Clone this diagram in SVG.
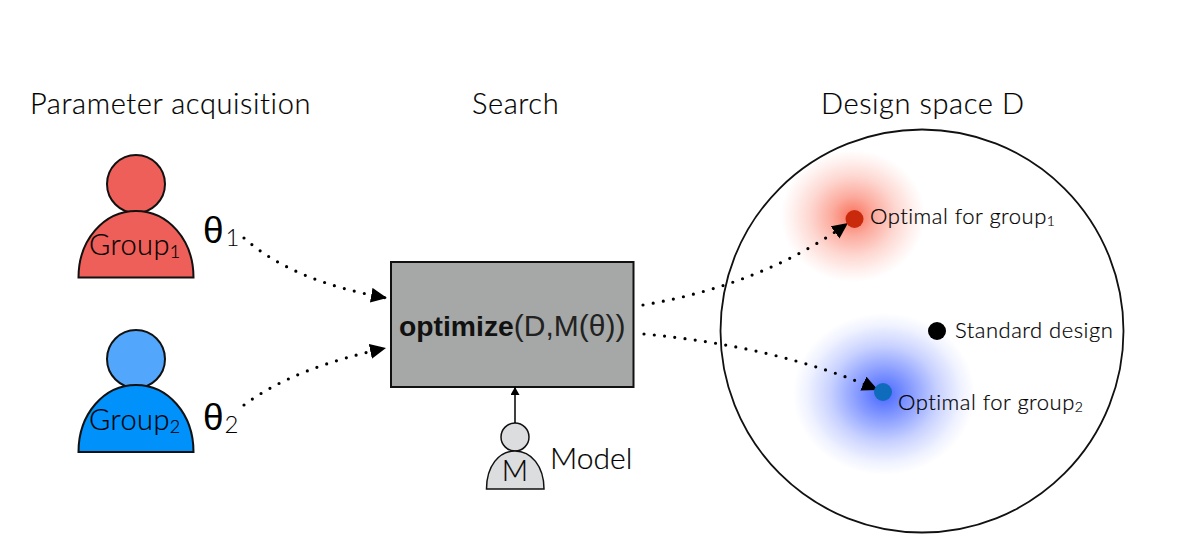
<svg xmlns="http://www.w3.org/2000/svg" width="1187" height="540" viewBox="0 0 1187 540">
<defs>
<style>
.t{font-family:"Lato","Open Sans",sans-serif;font-weight:300;fill:#000;stroke:#000;stroke-width:.2px}
.h{font-size:29px;letter-spacing:.6px}
.g{font-size:29px;letter-spacing:.45px}
.l{font-size:22px;letter-spacing:.5px}
.th{font-family:"Liberation Sans",sans-serif;font-size:37px;fill:#000}
.sh{stroke:#111;stroke-width:2}
.dot{fill:none;stroke:#000;stroke-width:3.2;stroke-linecap:round;stroke-dasharray:0 10.3;marker-end:url(#ah)}
</style>
<marker id="ah" markerUnits="userSpaceOnUse" markerWidth="18" markerHeight="16" refX="16" refY="7.5" orient="auto"><path d="M0 0L16 7.5L0 15Z" fill="#000"/></marker>
<marker id="as" markerUnits="userSpaceOnUse" markerWidth="10" markerHeight="10" refX="8" refY="4.5" orient="auto"><path d="M0 0L8 4.5L0 9Z" fill="#000"/></marker>
<radialGradient id="rg"><stop offset="0" stop-color="#f8583e" stop-opacity=".85"/><stop offset=".3" stop-color="#f8583e" stop-opacity=".5"/><stop offset=".6" stop-color="#f8583e" stop-opacity=".24"/><stop offset=".85" stop-color="#f8583e" stop-opacity=".08"/><stop offset="1" stop-color="#f8583e" stop-opacity="0"/></radialGradient>
<radialGradient id="bg"><stop offset="0" stop-color="#3f5fff" stop-opacity=".95"/><stop offset=".3" stop-color="#3f5fff" stop-opacity=".62"/><stop offset=".6" stop-color="#3f5fff" stop-opacity=".28"/><stop offset=".85" stop-color="#3f5fff" stop-opacity=".08"/><stop offset="1" stop-color="#3f5fff" stop-opacity="0"/></radialGradient>
</defs>
<rect width="1187" height="540" fill="#fff"/>
<g id="titles">
<text class="t h" x="30" y="113.500">Parameter acquisition</text>
<text class="t h" x="472" y="113.500">Search</text>
<text class="t h" x="821" y="113.500">Design space D</text>
</g>
<g id="design-space">
<circle cx="922" cy="331" r="201.500" fill="#fff" stroke="#111" stroke-width="1.800"/>
<ellipse cx="853" cy="216" rx="72" ry="66" fill="url(#rg)"/>
<ellipse cx="884" cy="394" rx="91" ry="81" fill="url(#bg)"/>
</g>
<g id="group1">
<circle class="sh" cx="136" cy="184" r="29" fill="#ef5f59"/>
<path class="sh" d="M78.500 277.500C78.500 240 104 211 136 211C168 211 193.500 240 193.500 277.500Z" fill="#ef5f59"/>
<text class="t g" x="89" y="255">Group<tspan font-size="18" dy="3">1</tspan></text>
</g>
<g id="group2">
<circle class="sh" cx="136" cy="359" r="29" fill="#52a6fb"/>
<path class="sh" d="M78.500 452C78.500 414 104 385 136 385C168 385 193.500 414 193.500 452Z" fill="#0091fb"/>
<text class="t g" x="89" y="430">Group<tspan font-size="18" dy="3">2</tspan></text>
</g>
<g id="theta1"><text class="th" x="203" y="243">θ<tspan font-family="Lato" font-weight="300" font-size="24" dy="3" dx="2">1</tspan></text></g>
<g id="theta2"><text class="th" x="203" y="430">θ<tspan font-family="Lato" font-weight="300" font-size="24" dy="3" dx="1">2</tspan></text></g>
<g id="optimize">
<rect x="391" y="262" width="242.500" height="125" fill="#a5a8a6" stroke="#111" stroke-width="2"/>
<text x="399" y="336" font-family="'Liberation Sans',sans-serif" font-size="28.300" fill="#111"><tspan font-weight="700">optimize</tspan><tspan fill="#222" font-size="30">(D,M(θ))</tspan></text>
</g>
<g id="model">
<circle cx="515" cy="437" r="14" fill="#dcddde" stroke="#111" stroke-width="1.500"/>
<path d="M486.500 489C486.500 466 499 451 515 451C531 451 544 466 544 489Z" fill="#dcddde" stroke="#111" stroke-width="1.500"/>
<text class="t" x="515" y="481" font-size="29" text-anchor="middle">M</text>
<text class="t" x="550" y="469" font-size="30">Model</text>
</g>
<g id="connectors">
<path class="dot" d="M244 238C280 270 330 288 387 298"/>
<path class="dot" d="M244 405C280 378 330 360 386 348"/>
<path class="dot" d="M643 305C720 292 790 265 848 223"/>
<path class="dot" d="M644 334C730 342 810 360 878 390"/>
<path d="M515 423V387" fill="none" stroke="#000" stroke-width="1.500" marker-end="url(#as)"/>
</g>
<g id="point-group1"><circle cx="854.500" cy="219" r="9" fill="#c92a0c"/><text class="t l" x="870" y="224">Optimal for group<tspan font-size="14" dy="2">1</tspan></text></g>
<g id="point-group2"><circle cx="883" cy="392" r="9" fill="#0f6cbd"/><text class="t l" x="898" y="410">Optimal for group<tspan font-size="14" dy="2">2</tspan></text></g>
<g id="point-standard"><circle cx="937" cy="331" r="9" fill="#000"/><text class="t l" x="955" y="338">Standard design</text></g>
</svg>
